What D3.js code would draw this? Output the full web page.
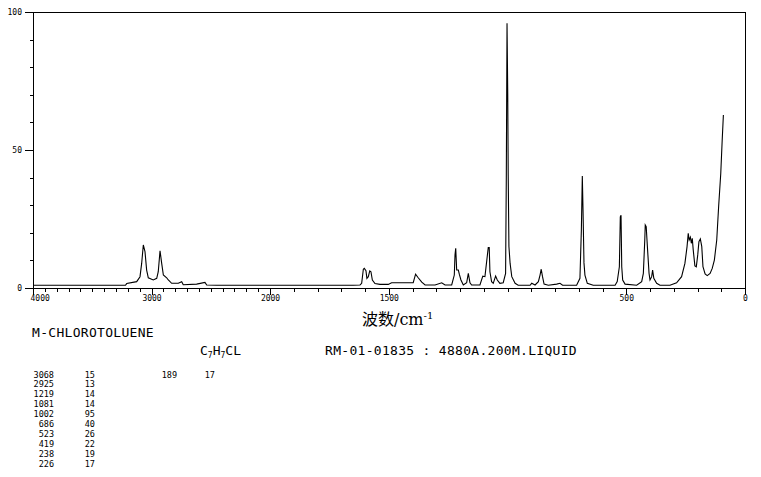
<!DOCTYPE html>
<html><head><meta charset="utf-8">
<script src="https://cdn.jsdelivr.net/npm/d3@7"></script>
<style>
html,body{margin:0;padding:0;background:#fff;}
svg{display:block;}
.mono{font-family:"DejaVu Sans Mono","Liberation Mono",monospace;fill:#000;}
</style></head>
<body>
<svg id="chart" width="761" height="477"></svg>
<script>
// ---- data ----
const wavenumbers = [4000,3220,3209,3125,3097,3083,3069,3055,3041,3027,2985,2956,2943,2928,2914,2900,2872,2858,2830,2774,2745,2732,2619,2549,2534,2450,
1650,1621,1614,1607,1603,1596,1592,1586,1580,1575,1569,1558,1537,1502,1488,1397,1387,1376,1361,1347,1305,1277,1263,1235,1224,1221,1218,1214,1207,1203,1196,1186,1172,1165,1158,1151,1116,1104,1095,1081,1077,1074,1067,1060,1050,1043,1032,1018,1008,1005,1002,999,997,994,989,982,968,955,905,898,884,870,863,858,853,846,828,793,779,768,709,695,689,685,682,678,674,664,639,
547,538,529,525,522,519,515,505,456,435,428,422,420,416,411,404,400,393,389,384,372,358,316,288,267,253,244,239,235,230,226,222,218,211,205,199,194,188,182,177,168,159,147,138,129,119,111,102,96,91];
const intensities = [1.0,1.0,1.6,2.3,4.1,8.9,15.6,13.2,6.5,3.7,2.9,3.5,5.9,13.5,8.9,4.7,3.7,2.9,1.7,1.7,2.3,1.2,1.4,2.0,1.1,1.0,
1.0,1.1,1.7,6.8,7.1,6.3,3.5,4.1,6.2,5.9,2.9,1.6,1.3,1.3,1.9,1.9,5.0,3.7,2.1,1.1,1.1,1.9,1.1,1.1,4.7,12.0,14.4,6.5,6.5,5.0,2.9,1.1,1.9,5.3,1.9,1.1,1.1,4.3,4.1,14.7,14.7,5.9,2.3,1.7,4.3,2.9,1.7,1.9,5.3,40.3,95.9,70.5,40.9,15.0,8.9,4.1,1.7,1.0,1.0,1.7,1.1,2.3,4.7,6.8,4.3,1.4,1.0,1.4,1.7,1.0,1.0,3.5,21.0,40.6,28.3,9.1,4.7,1.7,1.0,
1.0,2.3,7.7,25.8,26.4,7.7,2.9,1.4,1.0,2.3,5.3,17.4,22.8,22.2,15.0,5.3,2.9,4.1,6.5,3.5,1.7,1.0,1.0,1.9,4.1,8.9,15.0,19.8,17.4,18.4,16.2,18.0,13.8,8.0,7.7,12.0,16.8,17.8,15.0,7.7,5.1,4.5,5.3,7.1,10.1,17.4,29.5,41.6,53.6,62.7];

const xMajorTicks = [4000,3000,2000,1500,500,0];
const xMinorTicks = d3.range(0,4001,100);
const yMajorTicks = [0,50,100];
const yMinorTicks = d3.range(0,101,10);

const compoundName = "M-CHLOROTOLUENE";
const infoText = "RM-01-01835 : 4880A.200M.LIQUID";
const peakWavenumbers = ["3068","2925","1219","1081","1002","686","523","419","238","226"];
const peakIntensities = ["15","13","14","14","95","40","26","22","19","17"];
const extraPeakWavenumbers = ["189"];
const extraPeakIntensities = ["17"];

// ---- drawing ----
const svg = d3.select("#chart");
const x = d3.scaleLinear().domain([4000,2000,0]).range([33,270,745]);
const y = d3.scaleLinear().domain([0,100]).range([288,12]);

svg.append("rect").attr("width",761).attr("height",477).attr("fill","#fff");

// frame (top and right)
svg.append("path")
  .attr("d",`M${x(4000)},${y(100)+0.5}H${x(0)+0.5}V${y(0)}`)
  .attr("fill","none").attr("stroke","#000").attr("stroke-width",1)
  .attr("shape-rendering","crispEdges");

function styleAxis(g){
  g.selectAll("path,line").attr("stroke","#000").attr("shape-rendering","crispEdges");
  g.selectAll("text").attr("class","mono").attr("font-size",8).attr("fill","#000");
}

svg.append("g").attr("transform",`translate(0,${y(0)})`)
  .call(d3.axisBottom(x).tickValues(xMinorTicks).tickSize(4).tickSizeOuter(0).tickFormat(""))
  .call(styleAxis);
svg.append("g").attr("transform",`translate(0,${y(0)})`)
  .call(d3.axisBottom(x).tickValues(xMajorTicks).tickSize(7).tickSizeOuter(0).tickPadding(0).tickFormat(d3.format("d")))
  .call(styleAxis)
  .call(g=>g.select(".domain").remove())
  .call(g=>g.selectAll(".tick text").filter(d=>d===4000).attr("text-anchor","start").attr("x",-3));

svg.append("g").attr("transform",`translate(${x(4000)},0)`)
  .call(d3.axisLeft(y).tickValues(yMinorTicks).tickSize(3).tickSizeOuter(0).tickFormat(""))
  .call(styleAxis);
svg.append("g").attr("transform",`translate(${x(4000)},0)`)
  .call(d3.axisLeft(y).tickValues(yMajorTicks).tickSize(8).tickSizeOuter(0).tickPadding(3).tickFormat(d3.format("d")))
  .call(styleAxis)
  .call(g=>g.select(".domain").remove());

// spectrum
const pts = wavenumbers.map((w,i)=>[w,intensities[i]]);
svg.append("path").datum(pts)
  .attr("fill","none").attr("stroke","#000").attr("stroke-width",1.1)
  .attr("d",d3.line().x(d=>x(d[0])).y(d=>y(d[1])));

// axis title
const title = svg.append("text").attr("x",362).attr("y",325)
  .attr("font-family","'DejaVu Serif','Noto Sans CJK SC',serif").attr("font-size",16).attr("fill","#000");
title.append("tspan").attr("font-family","'Noto Sans CJK SC',sans-serif").text("波数");
title.append("tspan").text("/cm");
title.append("tspan").attr("font-size",10).attr("dy",-6).text("-1");

// info texts
svg.append("text").attr("class","mono").attr("x",32).attr("y",337).attr("font-size",13).attr("letter-spacing",0.3).text(compoundName);
const formula = svg.append("text").attr("class","mono").attr("x",200).attr("y",355).attr("font-size",13);
[["C",0],["7",1],["H",0],["7",1],["CL",0]].forEach(([t,sub])=>{
  formula.append("tspan").text(t).attr("font-size",sub?8:13).attr("y",sub?358:355);
});
svg.append("text").attr("class","mono").attr("x",325).attr("y",355).attr("font-size",13).attr("letter-spacing",0.3).text(infoText);

// peak table
const rowY = i=>377.5+i*9.9;
peakWavenumbers.forEach((w,i)=>{
  svg.append("text").attr("class","mono").attr("x",54).attr("y",rowY(i)).attr("font-size",8.5).attr("text-anchor","end").text(w);
  svg.append("text").attr("class","mono").attr("x",95).attr("y",rowY(i)).attr("font-size",8.5).attr("text-anchor","end").text(peakIntensities[i]);
});
extraPeakWavenumbers.forEach((w,i)=>{
  svg.append("text").attr("class","mono").attr("x",177).attr("y",rowY(i)).attr("font-size",8.5).attr("text-anchor","end").text(w);
  svg.append("text").attr("class","mono").attr("x",215).attr("y",rowY(i)).attr("font-size",8.5).attr("text-anchor","end").text(extraPeakIntensities[i]);
});
</script>
</body></html>
